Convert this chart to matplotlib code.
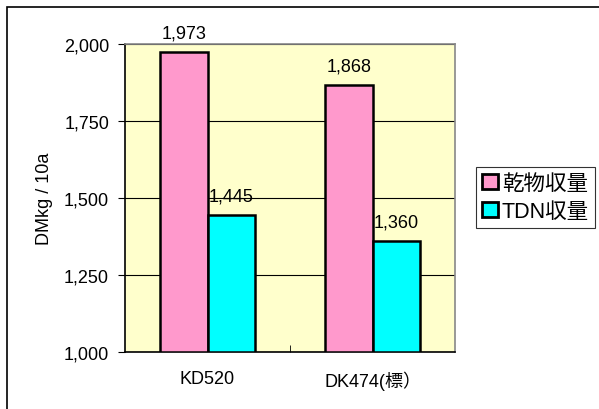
import matplotlib.pyplot as plt
import numpy as np
from matplotlib.patches import Rectangle

plt.rcParams['font.family'] = ['Liberation Sans', 'Noto Sans CJK JP', 'DejaVu Sans']

# data
varieties = ['KD520', 'DK474(標）']
series_names = ['乾物収量', 'TDN収量']
dry_matter = [1973, 1868]
tdn = [1445, 1360]
yticks = [1000, 1250, 1500, 1750, 2000]

fig = plt.figure(figsize=(5.99, 4.10), dpi=100)
# outer chart border
fig.patches.append(Rectangle((7/599, -0.1), 1.2, (410-8)/410 + 0.1,
                             transform=fig.transFigure, fill=False,
                             edgecolor='black', linewidth=1.2))

ax = fig.add_axes([125/599, 57/410, 330/599, 308/410])
ax.set_facecolor('#ffffcc')

x = np.arange(len(varieties))
w = 0.285
ax.bar(x - w/2, np.array(dry_matter) - 1000, w, bottom=1000, color='#ff99cc',
       edgecolor='black', linewidth=1.8, label=series_names[0], zorder=3)
ax.bar(x + w/2, np.array(tdn) - 1000, w, bottom=1000, color='#00ffff',
       edgecolor='black', linewidth=1.8, label=series_names[1], zorder=3)

fs = 13
for xs, vals in [(x - w/2, dry_matter), (x + w/2, tdn)]:
    for xi, v in zip(xs, vals):
        ax.annotate(f'{v:,}', (xi, v), xytext=(0, 7.5), textcoords='offset points',
                    ha='center', va='bottom', fontsize=fs)

ax.set_xlim(-0.5, 1.5)
ax.set_ylim(1000, 2000)
ax.set_yticks(yticks)
ax.set_yticklabels([f'{t:,}' for t in yticks], fontsize=fs)
ax.set_xticks(x)
ax.set_xticklabels(varieties, fontsize=fs)
ax.tick_params(axis='x', length=0, pad=13)
ax.set_xticks([0.5], minor=True)
ax.tick_params(axis='x', which='minor', direction='in', length=5, color='black')
ax.tick_params(axis='y', direction='out', length=5, color='black', pad=6.5)
ax.grid(axis='y', color='black', linewidth=0.8, zorder=1)
ax.set_axisbelow(True)
ax.set_ylabel('DMkg / 10a', fontsize=13, labelpad=8)

for s in ['top', 'right']:
    ax.spines[s].set_color('#888888')
    ax.spines[s].set_linewidth(1.2)
for s in ['left', 'bottom']:
    ax.spines[s].set_color('black')
    ax.spines[s].set_linewidth(1.2)

leg = fig.legend(loc='upper left', bbox_to_anchor=(476/599, 1 - 168/410),
                 frameon=True, fancybox=False, fontsize=15.5,
                 handlelength=0.7, handleheight=0.7, handletextpad=0.2,
                 borderpad=0.3, labelspacing=0.3, borderaxespad=0)
leg.get_frame().set_edgecolor('black')
leg.get_frame().set_linewidth(0.8)
for h in leg.legend_handles:
    h.set_linewidth(2)

fig.savefig('out.png', dpi=100)
